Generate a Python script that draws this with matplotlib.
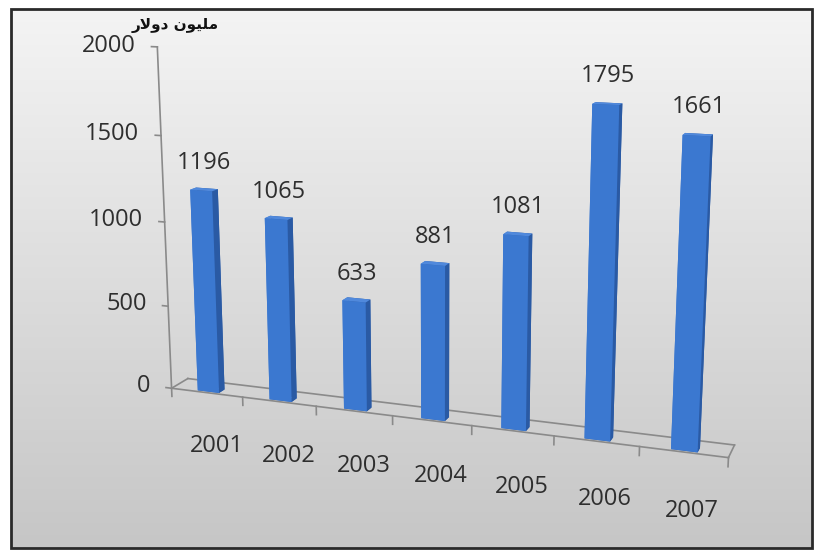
import matplotlib.pyplot as plt
import numpy as np
from matplotlib.colors import LinearSegmentedColormap
from matplotlib.patches import Rectangle

years = ["2001", "2002", "2003", "2004", "2005", "2006", "2007"]
values = [1196, 1065, 633, 881, 1081, 1795, 1661]
z_ticks = [0, 500, 1000, 1500, 2000]
# "مليون دولار" in presentation forms, visual order (matplotlib has no bidi shaping)
unit_label = "\uFEAD\uFEFB\uFEED\uFEA9 \uFEE5\uFEEE\uFEF4\uFEE0\uFEE3"

# face colours: bottom, top, front, back, left, right
FACES = ["#2b5ca8", "#5089dc", "#3b78d0", "#2b5ca8", "#3b78d0", "#2a5aa4"]
LINE = "#8a8a8a"
TEXT = "#2e2e2e"
FONT = ["Open Sans", "DejaVu Sans"]


def line3d(ax, xs, ys, zs):
    (ln,) = ax.plot(xs, ys, zs, color=LINE, lw=1.2)
    ln.set_clip_on(False)


def main():
    fig = plt.figure(figsize=(8.18, 5.57), dpi=100)
    fig.patch.set_facecolor("white")

    # framed grey gradient background
    frame = [11 / 818, 9 / 557, 801 / 818, 539 / 557]
    bg = fig.add_axes(frame)
    cmap = LinearSegmentedColormap.from_list("bg", ["#f4f4f4", "#c6c6c6"])
    bg.imshow(np.linspace(0, 1, 256)[:, None], aspect="auto", cmap=cmap,
              extent=[0, 1, 0, 1], origin="upper")
    bg.set_axis_off()
    fig.patches.append(Rectangle((frame[0], frame[1]), frame[2], frame[3],
                                 transform=fig.transFigure, fill=False,
                                 edgecolor="#2a2a2a", linewidth=2))

    ax = fig.add_axes([0.026, 0.055, 1.0, 1.0], projection="3d")
    ax.set_axis_off()
    ax.patch.set_alpha(0)
    ax.set_proj_type("persp", focal_length=0.5)
    ax.view_init(elev=13, azim=-70)
    ax.set_box_aspect((590, 35, 362), zoom=1.23)

    x = np.arange(len(years))
    w = 0.3
    bars = ax.bar3d(x - w / 2, 0.1, 0, w, 0.35, values,
                    color=FACES * len(years), shade=False)
    bars.set_clip_on(False)

    x0, x1 = -0.5, len(years) - 0.5
    # floor outline and category ticks
    line3d(ax, [x0, x1], [0, 0], [0, 0])
    line3d(ax, [x0, x1], [1, 1], [0, 0])
    line3d(ax, [x0, x0], [0, 1], [0, 0])
    line3d(ax, [x1, x1], [0, 1], [0, 0])
    for b in np.arange(x0 + 1, x1 + 0.01, 1.0):
        line3d(ax, [b, b], [0, 0], [0, -50])

    # value axis on the front-left corner
    line3d(ax, [x0, x0], [0, 0], [-50, 2000])
    for t in z_ticks:
        line3d(ax, [x0, x0 - 0.08], [0, 0], [t, t])
        ax.text(x0 - 0.3, 0, t, str(t), ha="right", va="center",
                fontsize=17, color=TEXT, family=FONT)
    ax.text(x0 + 0.25, 0, 2080, unit_label, ha="center", va="bottom",
            fontsize=11, fontweight="bold", color="#111111", family="DejaVu Sans")

    for xi, v in zip(x, values):
        ax.text(xi, 0.3, v + 80, str(v), ha="center", va="bottom",
                fontsize=17, color=TEXT, family=FONT)
    for xi, yr in zip(x, years):
        ax.text(xi + 0.12, 0, -320, yr, ha="center", va="center",
                fontsize=17, color=TEXT, family=FONT)

    ax.set_xlim(x0, x1)
    ax.set_ylim(0, 1)
    ax.set_zlim(0, 2000)

    fig.savefig("out.png", dpi=100)


if __name__ == "__main__":
    main()
